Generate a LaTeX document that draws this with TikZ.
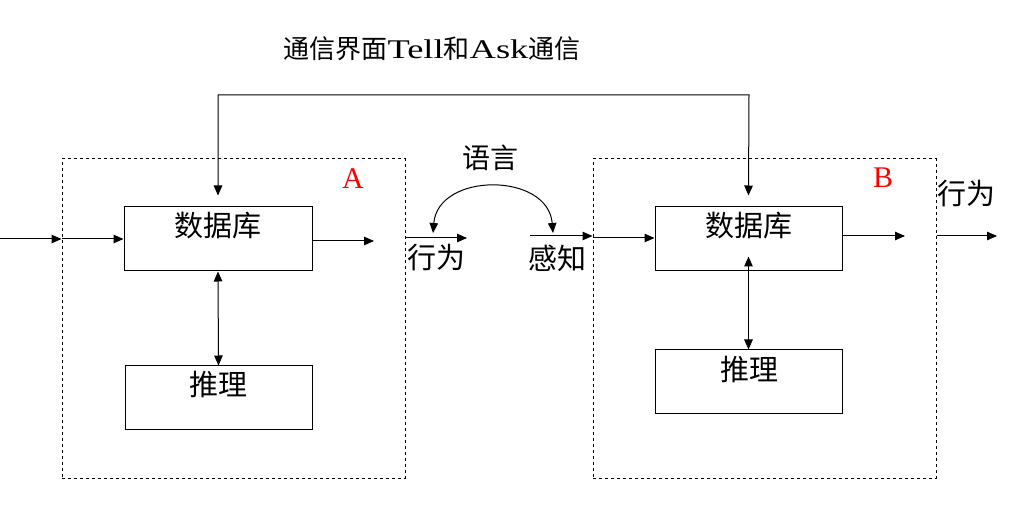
\documentclass[tikz,border=0pt]{standalone}
\usepackage{fontspec}
\setmainfont{Liberation Serif}
\newfontfamily\cjk{Noto Sans CJK SC}
\usetikzlibrary{arrows.meta,calc}
\tikzset{
  box/.style={draw, line width=1pt, inner sep=0pt},
  dbox/.style={draw, line width=1pt, dash pattern=on 3pt off 3pt, inner sep=0pt},
  arr/.style={line width=1pt, -{Triangle[length=10pt,width=8.5pt]}},
  arrs/.style={line width=1pt, {Triangle[length=10pt,width=8.5pt]}-{Triangle[length=10pt,width=8.5pt]}},
  lab/.style={inner sep=0pt, font=\cjk\fontsize{29}{32}\selectfont},
  big/.style={inner sep=0pt, text=red, font=\fontsize{30}{33}\selectfont}
}
\begin{document}
\begin{tikzpicture}[x=1pt,y=-1pt]
\useasboundingbox (0,0) rectangle (1031,510);
% dashed agent boxes
\node[dbox, minimum width=343pt, minimum height=319pt] (boxA) at (233.5,318.5) {};
\node[dbox, minimum width=343pt, minimum height=319pt] (boxB) at (764.5,318.5) {};
% inner boxes
\node[box, minimum width=188pt, minimum height=64pt] (dbA) at (218,239) {};
\node[box, minimum width=187pt, minimum height=64pt] (rA) at (218.5,398) {};
\node[box, minimum width=187pt, minimum height=64pt] (dbB) at (748.5,239) {};
\node[box, minimum width=187pt, minimum height=64pt] (rB) at (748.5,382) {};
% texts
\node[lab] (tdbA) at (218,226) {数据库};
\node[lab] (trA) at (218,384) {推理};
\node[lab] (tdbB) at (748.5,226) {数据库};
\node[lab] (trB) at (749,369) {推理};
\node[big] (labA) at (353,179) {A};
\node[big] (labB) at (883,178) {B};
\node[lab] (act1) at (436,258) {行为};
\node[lab] (perc) at (557,258) {感知};
\node[lab, font=\cjk\fontsize{28}{31}\selectfont] (lang) at (490,158) {语言};
\node[lab] (act2) at (966,194) {行为};
\node[inner sep=0pt] (title) at (432,49) {{\cjk\fontsize{26}{29}\selectfont 通信界面}{\fontsize{27}{29}\selectfont\scalebox{1.35}[1]{Tell}}{\cjk\fontsize{26}{29}\selectfont 和}{\fontsize{27}{29}\selectfont\scalebox{1.35}[1]{Ask}}{\cjk\fontsize{26}{29}\selectfont 通信}};
% coordinates
\coordinate (tA) at (218,95);
\coordinate (tB) at (749,95);
\coordinate (in) at (0,239);
\coordinate (oA) at (374,241);
\coordinate (aA) at (467,238);
\coordinate (pB) at (530,236);
\coordinate (iB) at (600,238);
\coordinate (oB) at (905,236);
\coordinate (aB) at (997,236);
\coordinate (l1) at (433,233);
\coordinate (l2) at (553,233);
% communication interface
\draw[arrs] ([yshift=11pt]dbA.north) -- (tA) -- (tB) -- ([yshift=11pt]dbB.north);
% internal arrows
\draw[arrs] (dbA.south) -- (rA.north);
\draw[arrs] ([yshift=15pt]dbB.south) -- (rB.north);
% inputs and outputs
\draw[arr] (in) -- (in -| boxA.west);
\draw[arr] (in -| boxA.west) -- (in -| dbA.west);
\draw[arr] (oA -| dbA.east) -- (oA);
\draw[arr] (aA -| boxA.east) -- (aA);
\draw[arr] (pB) -- (pB -| boxB.west);
\draw[arr] (iB -| boxB.west) -- (iB -| dbB.west);
\draw[arr] (oB -| dbB.east) -- (oB);
\draw[arr] (aB -| boxB.east) -- (aB);
% language arc
\draw[arrs] (l1) .. controls (438,172) and (548,172) .. (l2);
\end{tikzpicture}
\end{document}
